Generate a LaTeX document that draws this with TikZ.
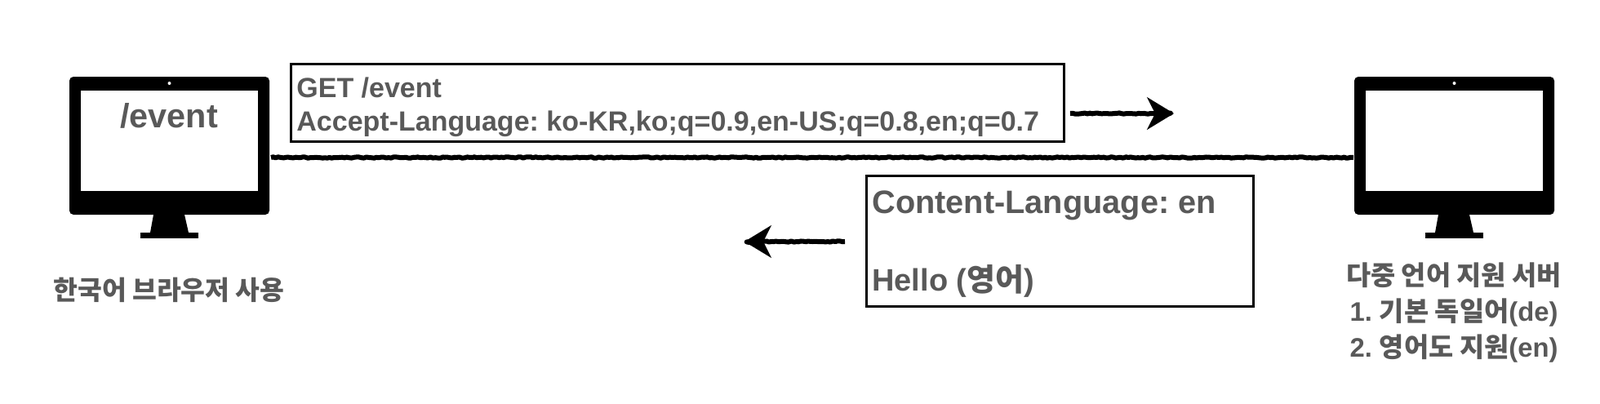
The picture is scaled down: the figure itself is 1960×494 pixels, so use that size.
\documentclass[tikz,border=0pt]{standalone}
\usepackage{fontspec}
\setmainfont{Liberation Sans}
\newfontfamily\cjk{Noto Sans CJK KR}
\usetikzlibrary{arrows.meta,decorations.pathmorphing}
\definecolor{labelgray}{HTML}{595959}
\newcommand{\kor}[1]{{\cjk\bfseries #1}}
\tikzset{
  msgbox/.style={draw=black,line width=1.5pt,fill=white},
  label/.style={text=labelgray,font=\bfseries\fontsize{17}{21}\selectfont,align=center,inner sep=0pt},
  rough/.style={black,line width=3pt,line join=round,decorate,decoration={random steps,segment length=1.5pt,amplitude=.35pt}},
  roughshaft/.style={rough,shorten >=6pt},
  roughtip/.style={black,line width=1pt,-{Stealth[inset=5pt,length=16.5pt,width=20pt]}}
}
% one monitor, #1 is the shift of the whole thing
\newcommand{\monitor}[1]{
  \begin{scope}[xshift=#1*0.5pt]
  \fill[black,rounded corners=2.5pt] (85,94) rectangle (330,263);
  \fill[white] (99,111) rectangle (316,234);
  \fill[white] (207.5,102) circle (2);
  \fill[black] (188,263) -- (226,263) -- (231,285) -- (184,285) -- cycle;
  \fill[black] (172,285) rectangle (243,292);
  \end{scope}
}
\begin{document}
\frenchspacing
\begin{tikzpicture}[x=0.5pt,y=-0.5pt]
\useasboundingbox (0,0) rectangle (1960,494);

% monitors
\monitor{0}
\monitor{1574}
\node[label,font=\bfseries\fontsize{20.7}{24}\selectfont] (path) at (207,142) {/event};
\node[label,font=\bfseries\fontsize{16.2}{20}\selectfont] (clientname) at (207,355) {\kor{한국어 브라우저 사용}};
\node[label,anchor=north,font=\bfseries\fontsize{16.4}{22}\selectfont] (servername) at (1781,321)
  {\kor{다중 언어 지원 서버}\\1. \kor{기본 독일어}(de)\\2. \kor{영어도 지원}(en)};

% line between them
\coordinate (lineleft) at (332,193);
\coordinate (lineright) at (1658,193);
\draw[rough] (lineleft) -- (lineright);

% request
\draw[msgbox] (356,78) rectangle (1303,173);
\node[label,anchor=north west,align=left,font=\bfseries\fontsize{17}{20.6}\selectfont] (request) at (363,94)
  {GET /event\\Accept-Language: ko-KR,ko;q=0.9,en-US;q=0.8,en;q=0.7};
\coordinate (reqfrom) at (1311,139);
\coordinate (reqto) at (1438,139);
\draw[roughshaft] (reqfrom) -- (reqto);
\draw[roughtip] (reqfrom) -- (reqto);

% response
\draw[msgbox] (1061,215) rectangle (1535,375);
\node[label,anchor=west,font=\bfseries\fontsize{19.85}{24}\selectfont] (resphead) at (1068,252) {Content-Language: en};
\node[label,anchor=west,font=\bfseries\fontsize{19}{23}\selectfont] (respbody) at (1068,344) {Hello (\kor{영어})};
\coordinate (respfrom) at (1035,296);
\coordinate (respto) at (912,296);
\draw[roughshaft] (respfrom) -- (respto);
\draw[roughtip] (respfrom) -- (respto);
\end{tikzpicture}
\end{document}
